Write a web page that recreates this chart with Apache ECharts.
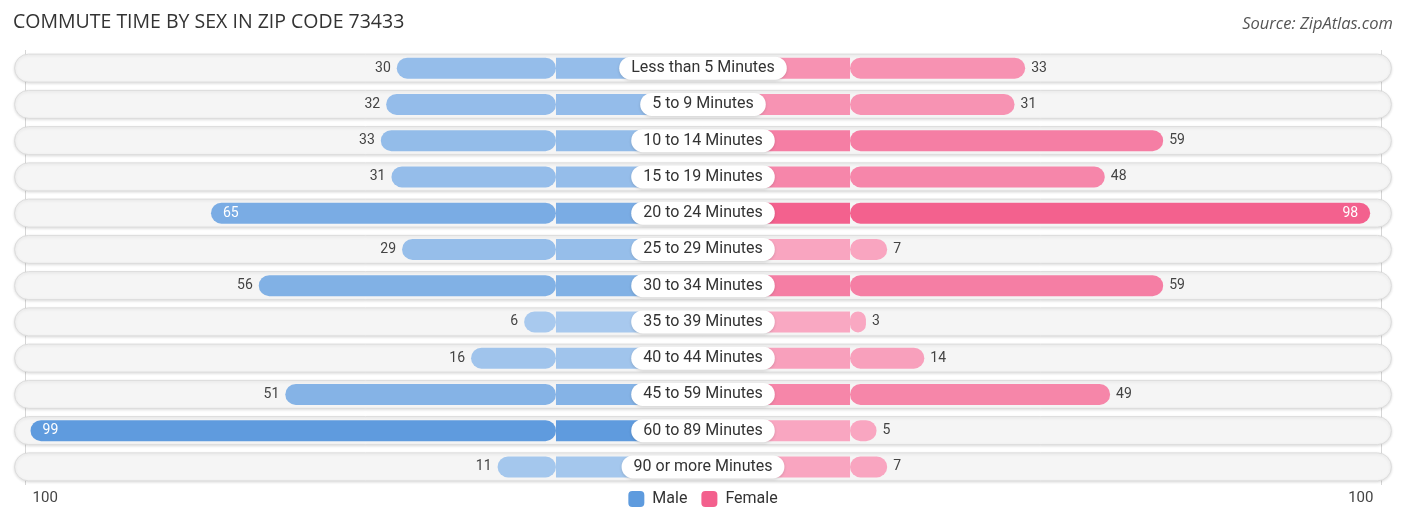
<!DOCTYPE html>
<html><head><meta charset="utf-8">
<script src="https://cdn.jsdelivr.net/npm/echarts@6/dist/echarts.min.js"></script>
<style>html,body{margin:0;padding:0;background:#fff}#c{width:1406px;height:523px}</style>
</head><body><div id="c"></div>
<script>
const categories = ["Less than 5 Minutes","5 to 9 Minutes","10 to 14 Minutes","15 to 19 Minutes","20 to 24 Minutes","25 to 29 Minutes","30 to 34 Minutes","35 to 39 Minutes","40 to 44 Minutes","45 to 59 Minutes","60 to 89 Minutes","90 or more Minutes"];
const male = [30,32,33,31,65,29,56,6,16,51,99,11];
const female = [33,31,59,48,98,7,59,3,14,49,5,7];
const tickLabels = ["100","100"];
const axisMax = 100;

const OFF = 27.7;      // gap hidden under the centre label (axis units)
const LIM = 130;
function mix(a,b,t){
  const pa=[1,3,5].map(i=>parseInt(a.substr(i,2),16)), pb=[1,3,5].map(i=>parseInt(b.substr(i,2),16));
  return 'rgb('+pa.map((v,i)=>Math.round(v+(pb[i]-v)*t)).join(',')+')';
}
const mLight='#adccef', mDark='#5e9bde', fLight='#f9aac4', fDark='#f3608d';
const FONT='Roboto';

const maleData = male.map(v=>({
  value:-v,
  itemStyle:{color:mix(mLight,mDark,v/100)},
  label: v>60 ? {position:'insideLeft',color:'#fff',distance:12} : {position:'left',color:'#444',distance:6}
}));
const femaleData = female.map(v=>({
  value:v,
  itemStyle:{color:mix(fLight,fDark,v/100)},
  label: v>60 ? {position:'insideRight',color:'#fff',distance:12} : {position:'right',color:'#444',distance:6}
}));
const maleBase = male.map(v=>({value:-OFF,itemStyle:{color:mix(mLight,mDark,v/100)}}));
const femaleBase = female.map(v=>({value:OFF,itemStyle:{color:mix(fLight,fDark,v/100)}}));
const edgeTicks = [-(axisMax+OFF), axisMax+OFF];

const chart = echarts.init(document.getElementById('c'));
chart.setOption({
  animation:false,
  textStyle:{fontFamily:FONT},
  title:[
    {text:'COMMUTE TIME BY SEX IN ZIP CODE 73433',left:13,top:12,padding:0,textStyle:{fontSize:19.5,fontWeight:'normal',color:'#333',fontFamily:'Open Sans'}},
    {text:'Source: ZipAtlas.com',right:13,top:16,padding:0,textStyle:{fontSize:16.5,fontWeight:'normal',fontStyle:'italic',color:'#555',fontFamily:'Open Sans'}}
  ],
  legend:{
    bottom:11,left:'center',itemWidth:16,itemHeight:16,itemGap:14,
    data:['Male','Female'],
    textStyle:{fontSize:16,color:'#333',fontFamily:FONT,padding:[0,0,0,3]},
    selectedMode:false
  },
  grid:{left:13,right:13,top:50,bottom:38},
  xAxis:{
    type:'value',min:-LIM,max:LIM,
    axisLine:{show:false},
    axisTick:{show:false,customValues:edgeTicks},
    splitLine:{show:true,lineStyle:{color:'#d6d6d6',width:1}},
    axisLabel:{
      show:true,customValues:edgeTicks,
      formatter:v=>v<0?'{l|'+tickLabels[0]+'}':'{r|'+tickLabels[1]+'}',
      rich:{l:{padding:[0,0,0,40],fontSize:15,color:'#444'},r:{padding:[0,40,0,0],fontSize:15,color:'#444'}},
      margin:6
    }
  },
  yAxis:[
    {type:'category',data:categories,inverse:true,show:false},
    {type:'category',data:categories,inverse:true,show:false}
  ],
  series:[
    {type:'bar',yAxisIndex:1,stack:'track',stackStrategy:'all',barWidth:29,silent:true,
     data:categories.map(()=>-LIM+0.2),itemStyle:{color:'transparent'}},
    {type:'bar',yAxisIndex:1,stack:'track',stackStrategy:'all',barWidth:29,silent:true,
     data:categories.map(()=>2*LIM-0.4),
     itemStyle:{color:'#f5f5f5',borderRadius:15,borderColor:'#dcdcdc',borderWidth:1,shadowColor:'rgba(0,0,0,0.12)',shadowBlur:3,shadowOffsetY:1}
    },
    {type:'bar',stack:'m',barWidth:21,barGap:'-100%',silent:true,data:maleBase},
    {name:'Male',type:'bar',stack:'m',barWidth:21,barGap:'-100%',data:maleData,
     itemStyle:{borderRadius:11,color:mDark},
     label:{show:true,fontSize:14,formatter:p=>Math.abs(p.value)}},
    {type:'bar',stack:'f',barWidth:21,barGap:'-100%',silent:true,data:femaleBase},
    {name:'Female',type:'bar',stack:'f',barWidth:21,barGap:'-100%',data:femaleData,
     itemStyle:{borderRadius:11,color:fDark},
     label:{show:true,fontSize:14,formatter:p=>p.value}},
    {type:'scatter',symbolSize:0,silent:true,z:10,
     data:categories.map((c,i)=>[0,i]),
     itemStyle:{opacity:1},
     label:{show:true,position:'inside',formatter:p=>categories[p.data[1]],fontSize:16,color:'#333',
       backgroundColor:'#fff',borderRadius:12,padding:[4,12,3,12],opacity:1,
       shadowColor:'rgba(0,0,0,0.15)',shadowBlur:3,shadowOffsetY:1}}
  ]
});
</script></body></html>
